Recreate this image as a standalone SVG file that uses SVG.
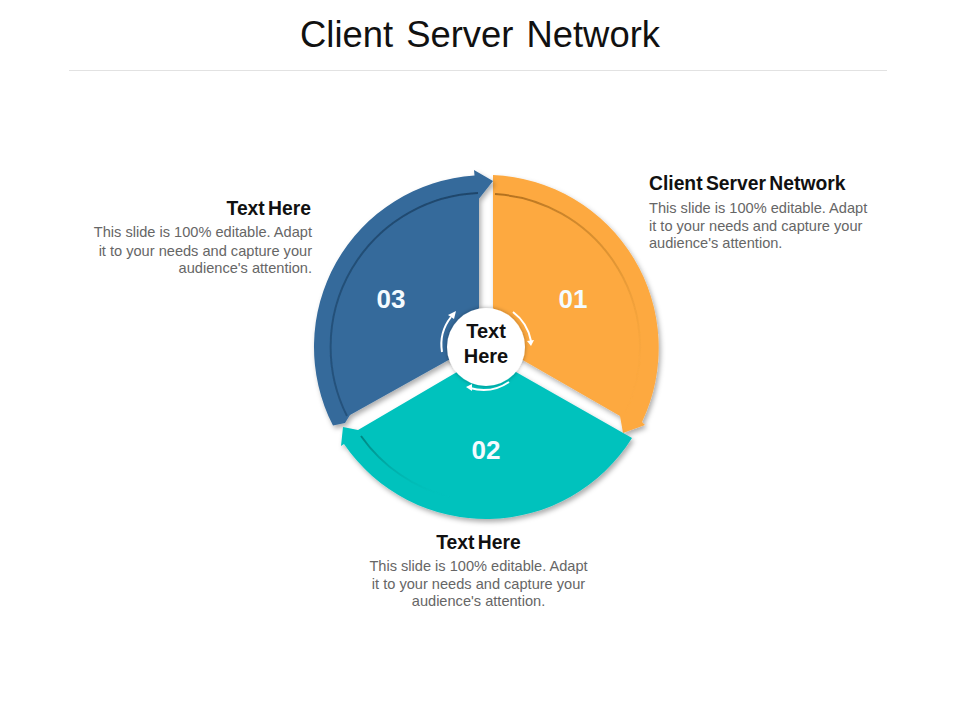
<svg xmlns="http://www.w3.org/2000/svg" width="960" height="720" viewBox="0 0 960 720">
<defs>
<style>
text{font-family:"Liberation Sans",Arial,sans-serif}
.title{font-size:36.400px;fill:#111;text-anchor:middle;word-spacing:3px}
.head{font-size:19.300px;font-weight:bold;fill:#111;word-spacing:-2px}
.body{font-size:14.600px;fill:#666}
.num{font-size:26px;font-weight:bold;fill:#f4fbff;text-anchor:middle}
.ctr{font-size:20px;font-weight:bold;fill:#111;text-anchor:middle}
.fold{fill:none;stroke-width:2;filter:url(#b)}
.cyc{fill:none;stroke:#fff;stroke-width:2}
</style>
<filter id="sh" x="-10%" y="-10%" width="125%" height="125%"><feDropShadow dx="2" dy="3" stdDeviation="2.500" flood-color="#000" flood-opacity=".32"/></filter>
<filter id="b" x="-10%" y="-10%" width="120%" height="120%"><feGaussianBlur stdDeviation=".7"/></filter>
<filter id="cs" x="-20%" y="-20%" width="140%" height="140%"><feDropShadow dx="0" dy="0" stdDeviation="2" flood-color="#000" flood-opacity=".35"/></filter>
<linearGradient id="fo" x1="0" y1="0" x2="1" y2="1"><stop offset="0" stop-color="#a8681a" stop-opacity=".9"/><stop offset=".6" stop-color="#c98528" stop-opacity=".5"/><stop offset="1" stop-color="#fda940" stop-opacity="0"/></linearGradient>
<linearGradient id="ft" x1="0" y1="0" x2="1" y2="1"><stop offset="0" stop-color="#007f7b" stop-opacity=".9"/><stop offset="1" stop-color="#00c2bd" stop-opacity="0"/></linearGradient>
<linearGradient id="fb" x1="1" y1="0" x2="0" y2="1"><stop offset="0" stop-color="#1c4468" stop-opacity=".95"/><stop offset="1" stop-color="#214d76" stop-opacity=".8"/></linearGradient>
</defs>
<rect width="960" height="720" fill="#fff"/>
<g id="header">
<text class="title" x="480" y="47">Client Server Network</text>
<line x1="69" y1="70.500" x2="887" y2="70.500" stroke="#e2e2e2"/>
</g>
<g id="segment-01">
<path d="M493 175A173 173 0 0 1 642 422L645 425L623 433L620 416L493 343Z" fill="#fda940" filter="url(#sh)"/>
<path class="fold" d="M495 194A154 154 0 0 1 626 412" stroke="url(#fo)"/>
<text class="num" x="573" y="308">01</text>
</g>
<g id="segment-03">
<path d="M479 343V198L478 200L493 181L474 170L474.500 175.400A172 172 0 0 0 333 425.600L345 423L350 415Z" fill="#356a9b" filter="url(#sh)"/>
<path class="fold" d="M478 193A154 154 0 0 0 347 416" stroke="url(#fb)"/>
<text class="num" x="391" y="308">03</text>
</g>
<g id="segment-02">
<path d="M632 438A172 172 0 0 1 344 444L341 446L343 427L358 430L486 355Z" fill="#00c2bd" filter="url(#sh)"/>
<path class="fold" d="M361 436A154 154 0 0 0 450 497" stroke="url(#ft)"/>
<text class="num" x="486" y="459">02</text>
</g>
<g id="center">
<circle cx="486" cy="347" r="39" fill="#fff" filter="url(#cs)"/>
<text class="ctr" x="486" y="338">Text</text>
<text class="ctr" x="486" y="363">Here</text>
<path class="cyc" d="M513 312A47 47 0 0 1 531 341"/>
<path d="M527 341L534 340L531 346Z" fill="#fff"/>
<path class="cyc" d="M442 352A45 45 0 0 1 451 317"/>
<path d="M448 315L456 311L454 319Z" fill="#fff"/>
<path class="cyc" d="M509 382A46 46 0 0 1 470 388"/>
<path d="M472 384L466 387L472 391Z" fill="#fff"/>
</g>
<g id="label-01">
<text class="head" x="649" y="190">Client Server Network</text>
<text class="body" x="649" y="213">This slide is 100% editable. Adapt</text>
<text class="body" x="649" y="231">it to your needs and capture your</text>
<text class="body" x="649" y="248">audience's attention.</text>
</g>
<g id="label-03" text-anchor="end">
<text class="head" x="311" y="215">Text Here</text>
<text class="body" x="312" y="237">This slide is 100% editable. Adapt</text>
<text class="body" x="312" y="256">it to your needs and capture your</text>
<text class="body" x="312" y="273">audience's attention.</text>
</g>
<g id="label-02" text-anchor="middle">
<text class="head" x="478.500" y="549">Text Here</text>
<text class="body" x="478.500" y="571">This slide is 100% editable. Adapt</text>
<text class="body" x="478.500" y="589">it to your needs and capture your</text>
<text class="body" x="478.500" y="606">audience's attention.</text>
</g>
</svg>
